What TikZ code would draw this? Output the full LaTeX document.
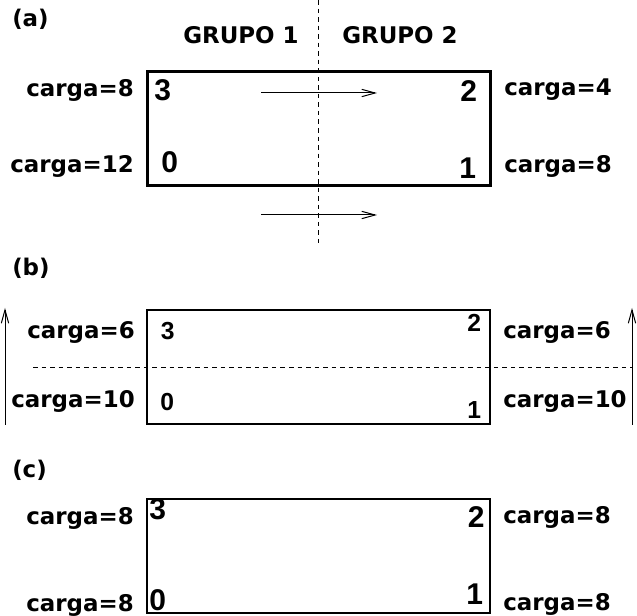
\documentclass[tikz,border=0pt]{standalone}
\usepackage{fontspec}
\setmainfont{DejaVu Sans}
\newfontfamily\digitfont{Liberation Sans}
\usetikzlibrary{arrows.meta}
\usetikzlibrary{positioning}

\begin{document}
\begin{tikzpicture}[x=0.75pt,y=-0.75pt,
    lab/.style={inner sep=0pt,font=\fontsize{17.2}{20}\selectfont\bfseries},
    num/.style={inner sep=0pt,anchor=base west,font=\fontsize{22.5}{24}\selectfont\digitfont\bfseries},
    numsmall/.style={inner sep=0pt,anchor=base west,font=\fontsize{18.5}{20}\selectfont\digitfont\bfseries},
    caja/.style={draw,inner sep=0pt,minimum width=257.25pt,minimum height=85.5pt},
    flecha/.style={-{Straight Barb[length=10pt,width=5.5pt]},line width=0.75pt},
    corte/.style={dash pattern=on 3.4pt off 3pt,line width=0.75pt}]

    \useasboundingbox (0,0) rectangle (637,616);

    % (a)
    \node[lab,anchor=base west] (tA) at (12,27) {(a)};
    \node[lab,anchor=base west] (g1) at (183,44) {GRUPO 1};
    \node[lab,anchor=base west] (g2) at (342,44) {GRUPO 2};

    \node[caja,line width=2.25pt] (cajaA) at (318.5,129) {};
    \coordinate (cortA1) at (318,0);
    \coordinate (cortA2) at (318,243);
    \draw[corte] (cortA1) -- (cortA2);

    \coordinate (fa1) at (261,93);
    \coordinate (fa2) at (377,93);
    \coordinate (fa3) at (261,215);
    \coordinate (fa4) at (377,215);
    \draw[flecha] (fa1) -- (fa2);
    \draw[flecha] (fa3) -- (fa4);

    \node[num] (a3) at (154,101) {3};
    \node[num] (a0) at (161,172.5) {0};
    \node[num] (a2) at (460,102) {2};
    \node[num] (a1) at (459,178.5) {1};

    \node[lab,anchor=base east] (ca3) at (134,97) {carga=8};
    \node[lab,anchor=base east] (ca0) at (134,173) {carga=12};
    \node[lab,anchor=base west] (ca2) at (504,96) {carga=4};
    \node[lab,anchor=base west] (ca1) at (504,173) {carga=8};

    % (b)
    \node[lab,anchor=base west] (tB) at (12,276) {(b)};

    \node[caja,line width=1.5pt] (cajaB) at (318.5,367.5) {};
    \coordinate (cortB1) at (33,368);
    \coordinate (cortB2) at (632,368);
    \draw[corte] (cortB1) -- (cortB2);

    \coordinate (fb1) at (5,425);
    \coordinate (fb2) at (5,308);
    \coordinate (fb3) at (632,425);
    \coordinate (fb4) at (632,308);
    \draw[flecha] (fb1) -- (fb2);
    \draw[flecha] (fb3) -- (fb4);

    \node[numsmall] (b3) at (160.5,339.5) {3};
    \node[numsmall] (b0) at (160,410.5) {0};
    \node[numsmall] (b2) at (467,332) {2};
    \node[numsmall] (b1) at (467,418.5) {1};

    \node[lab,anchor=base east] (cb3) at (135,339) {carga=6};
    \node[lab,anchor=base east] (cb0) at (135,408) {carga=10};
    \node[lab,anchor=base west] (cb2) at (503,339) {carga=6};
    \node[lab,anchor=base west] (cb1) at (503,408) {carga=10};

    % (c)
    \node[lab,anchor=base west] (tC) at (12,478) {(c)};

    \node[caja,line width=1.5pt] (cajaC) at (318.5,556) {};

    \node[num] (c3) at (149,520) {3};
    \node[num] (c0) at (149,611) {0};
    \node[num] (c2) at (467.5,528) {2};
    \node[num] (c1) at (466,605) {1};

    \node[lab,anchor=base east] (cc3) at (134,525) {carga=8};
    \node[lab,anchor=base east] (cc0) at (134,612) {carga=8};
    \node[lab,anchor=base west] (cc2) at (503,524) {carga=8};
    \node[lab,anchor=base west] (cc1) at (503,611) {carga=8};

\end{tikzpicture}
\end{document}
